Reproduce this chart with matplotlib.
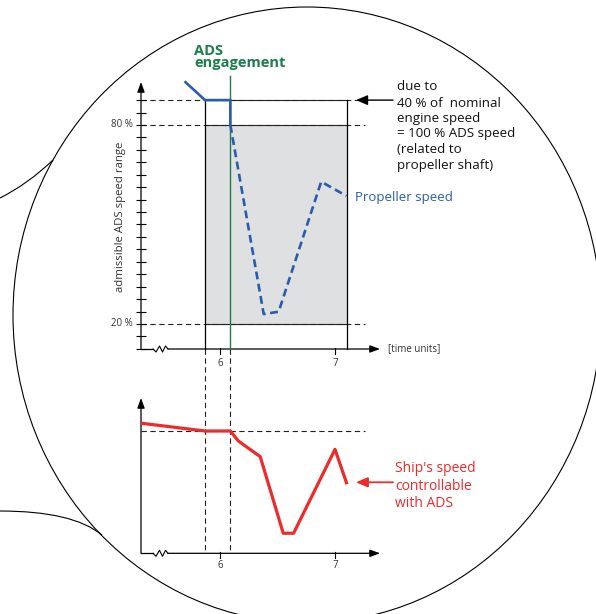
import matplotlib
matplotlib.use("Agg")
import matplotlib.pyplot as plt
from matplotlib.patches import Ellipse, PathPatch, Rectangle
from matplotlib.path import Path

plt.rcParams['font.family'] = ['Open Sans', 'DejaVu Sans']

# ---------------- data ----------------
# top chart: propeller speed (% of admissible ADS speed range) vs time units
prop_solid_t = [5.70, 5.87, 6.09, 6.09]
prop_solid_pct = [92.9, 87.5, 87.5, 80.0]
prop_dash_t = [6.09, 6.38, 6.51, 6.88, 7.10]
prop_dash_pct = [80.0, 23.0, 23.7, 62.9, 58.6]

# bottom chart: ship's speed (relative units, dashed reference = 100)
ship_t = [5.32, 5.87, 6.09, 6.16, 6.35, 6.55, 6.64, 7.00, 7.10]
ship_v = [106.3, 100.0, 100.0, 91.8, 79.0, 16.4, 16.4, 85.0, 57.7]

ads_low, ads_high, ads_top = 20.0, 80.0, 87.5
ads_window = (5.87, 7.10)
engagement_t = 6.09
x_ticks = [6, 7]
x_tick_labels = ['6', '7']
y_tick_vals = [20, 80]
y_tick_labels = ['20 %', '80 %']
minor_y_ticks = [12.5 + 3.75 * k for k in range(21)]

# ---------------- layout (pixel mapping) ----------------
W, H = 596, 614
PX_T6, PX_PER_T = 220.0, 115.0
PY_20, PX_PER_PCT = 324.0, 3.317
PY_SHIP0, PX_PER_V = 553.3, 1.223

def t_of(px):
    return 6 + (px - PX_T6) / PX_PER_T

def pct_of(py):
    return 20 + (PY_20 - py) / PX_PER_PCT

def v_of(py):
    return (PY_SHIP0 - py) / PX_PER_V

BLUE = '#2b5cac'
GREEN = '#1d7d4b'
RED = '#ec2b2b'
GRAY = '#dfe0e1'
DK = '#222222'

fig = plt.figure(figsize=(W / 100, H / 100), dpi=100)

ax0 = fig.add_axes([0, 0, 1, 1])
ax0.set_xlim(0, W); ax0.set_ylim(H, 0); ax0.axis('off')

ax1 = fig.add_axes([0, 0, 1, 1])
ax1.set_xlim(t_of(0), t_of(W)); ax1.set_ylim(pct_of(H), pct_of(0)); ax1.axis('off')
ax1.patch.set_visible(False)

ax2 = fig.add_axes([0, 0, 1, 1])
ax2.set_xlim(t_of(0), t_of(W)); ax2.set_ylim(v_of(H), v_of(0)); ax2.axis('off')
ax2.patch.set_visible(False)

# ---------------- decorative magnifier outline ----------------
ax0.add_patch(Ellipse((307, 315), 2 * 294, 2 * 308, fill=False, lw=0.8, color='k'))
p1 = Path([(0, 198), (28, 184), (53, 160)], [Path.MOVETO, Path.CURVE3, Path.CURVE3])
p2 = Path([(0, 511), (73, 511), (102, 535)], [Path.MOVETO, Path.CURVE3, Path.CURVE3])
ax0.add_patch(PathPatch(p1, fill=False, lw=0.8, color='k'))
ax0.add_patch(PathPatch(p2, fill=False, lw=0.8, color='k'))

dash_kw = dict(color=DK, lw=0.8, dashes=(4.8, 3.2))
t_axis = t_of(141)
t_dash_end = t_of(365)
base_pct = pct_of(349)
arrow_kw = dict(arrowstyle='-|>,head_length=0.6,head_width=0.22', color='k', lw=0.9,
                shrinkA=0, shrinkB=0, mutation_scale=10)

# ---------------- top chart ----------------
ax1.add_patch(Rectangle((ads_window[0], ads_low), ads_window[1] - ads_window[0],
                        ads_high - ads_low, facecolor=GRAY, edgecolor='none', zorder=1))
for level in (ads_top, ads_high, ads_low):
    ax1.plot([t_axis, t_dash_end], [level, level], zorder=2, **dash_kw)
    ax1.plot(ads_window, [level, level], color=DK, lw=0.8, zorder=2)
for tv in ads_window:
    ax1.plot([tv, tv], [base_pct, ads_top], color='k', lw=0.9, zorder=2)
for tv in (ads_window[0], engagement_t):
    ax1.plot([tv, tv], [base_pct, pct_of(PY_SHIP0)], zorder=2, **dash_kw)

# y axis with ticks
ax1.annotate('', xy=(t_axis, pct_of(82)), xytext=(t_axis, base_pct), arrowprops=arrow_kw)
half = 5 / PX_PER_T
ax1.hlines(minor_y_ticks, t_axis - half, t_axis + half, color='k', lw=0.8)
for v, lab in zip(y_tick_vals, y_tick_labels):
    ax1.text(t_of(133), v, lab, ha='right', va='center', fontsize=7, color='#333333')
ax1.text(t_of(121), pct_of(217), 'admissible ADS speed range', rotation=90,
         ha='center', va='center', fontsize=8.2, color='#333333')

# x axis
ax1.plot([t_axis, t_of(153)], [base_pct, base_pct], color='k', lw=0.9)
ax1.annotate('', xy=(t_of(380), base_pct), xytext=(t_of(168), base_pct), arrowprops=arrow_kw)
for tv, lab in zip(x_ticks, x_tick_labels):
    ax1.plot([tv, tv], [base_pct + 1 / PX_PER_PCT, base_pct - 5 / PX_PER_PCT], color='k', lw=0.8)
    ax1.text(tv, pct_of(363), lab, ha='center', va='center', fontsize=7, color='#333333')
ax1.text(t_of(388), base_pct, '[time units]', ha='left', va='center', fontsize=7, color='#333333')

# engagement line
ax1.plot([engagement_t, engagement_t], [base_pct, pct_of(76)], color=GREEN, lw=1.0, zorder=3)
ax1.text(t_of(194), pct_of(51), 'ADS', ha='left', va='center', fontsize=10.5,
         fontweight='bold', color=GREEN)
ax1.text(t_of(194), pct_of(63.5), 'engagement', ha='left', va='center', fontsize=10.5,
         fontweight='bold', color=GREEN)

# propeller speed
ax1.plot(prop_solid_t, prop_solid_pct, color=BLUE, lw=1.9, zorder=4,
         solid_joinstyle='miter')
ax1.plot(prop_dash_t, prop_dash_pct, color=BLUE, lw=1.9, dashes=(3.0, 1.7), zorder=4)
ax1.text(t_of(355), pct_of(197), 'Propeller speed', ha='left', va='center',
         fontsize=9.5, color=BLUE)

# note
note_lines = ['due to', '40 % of  nominal', 'engine speed', '= 100 % ADS speed',
              '(related to', 'propeller shaft)']
note_py = [86.7, 103.0, 118.3, 133.5, 149.5, 165.0]
for s, py in zip(note_lines, note_py):
    ax1.text(t_of(397), pct_of(py), s, ha='left', va='center', fontsize=9.6, color='#111111')
ax1.annotate('', xy=(t_of(356), ads_top), xytext=(t_of(393), ads_top),
             arrowprops=dict(arrowstyle='-|>,head_length=0.7,head_width=0.3', color='k',
                             lw=1.0, shrinkA=0, shrinkB=0, mutation_scale=10))

# ---------------- bottom chart ----------------
ax2.annotate('', xy=(t_axis, v_of(398)), xytext=(t_axis, 0), arrowprops=arrow_kw)
ax2.plot([t_axis, t_of(153)], [0, 0], color='k', lw=0.9)
ax2.annotate('', xy=(t_of(380), 0), xytext=(t_of(168), 0), arrowprops=arrow_kw)
for tv, lab in zip(x_ticks, x_tick_labels):
    ax2.plot([tv, tv], [1 / PX_PER_V, -5 / PX_PER_V], color='k', lw=0.8)
    ax2.text(tv, v_of(565), lab, ha='center', va='center', fontsize=7, color='#333333')
ax2.plot([t_axis, t_dash_end], [100, 100], **dash_kw)
ax2.plot(ship_t, ship_v, color=RED, lw=2.3, zorder=4)
ship_lines = ["Ship's speed", 'controllable', 'with ADS']
ship_py = [468.5, 486.5, 503.5]
for s, py in zip(ship_lines, ship_py):
    ax2.text(t_of(395), v_of(py), s, ha='left', va='center', fontsize=10, color=RED)
ax2.annotate('', xy=(t_of(356), v_of(482.3)), xytext=(t_of(393), v_of(482.3)),
             arrowprops=dict(arrowstyle='-|>,head_length=0.7,head_width=0.3', color=RED,
                             lw=1.3, shrinkA=0, shrinkB=0, mutation_scale=10))

# zigzag axis breaks
for base in (349, 553.3):
    zx = [153, 156, 159.5, 162.5, 165.5, 168]
    zy = [base, base + 3, base - 3, base + 3, base - 3, base]
    ax0.plot(zx, zy, color='k', lw=0.8)

fig.savefig('out.png', dpi=100)
